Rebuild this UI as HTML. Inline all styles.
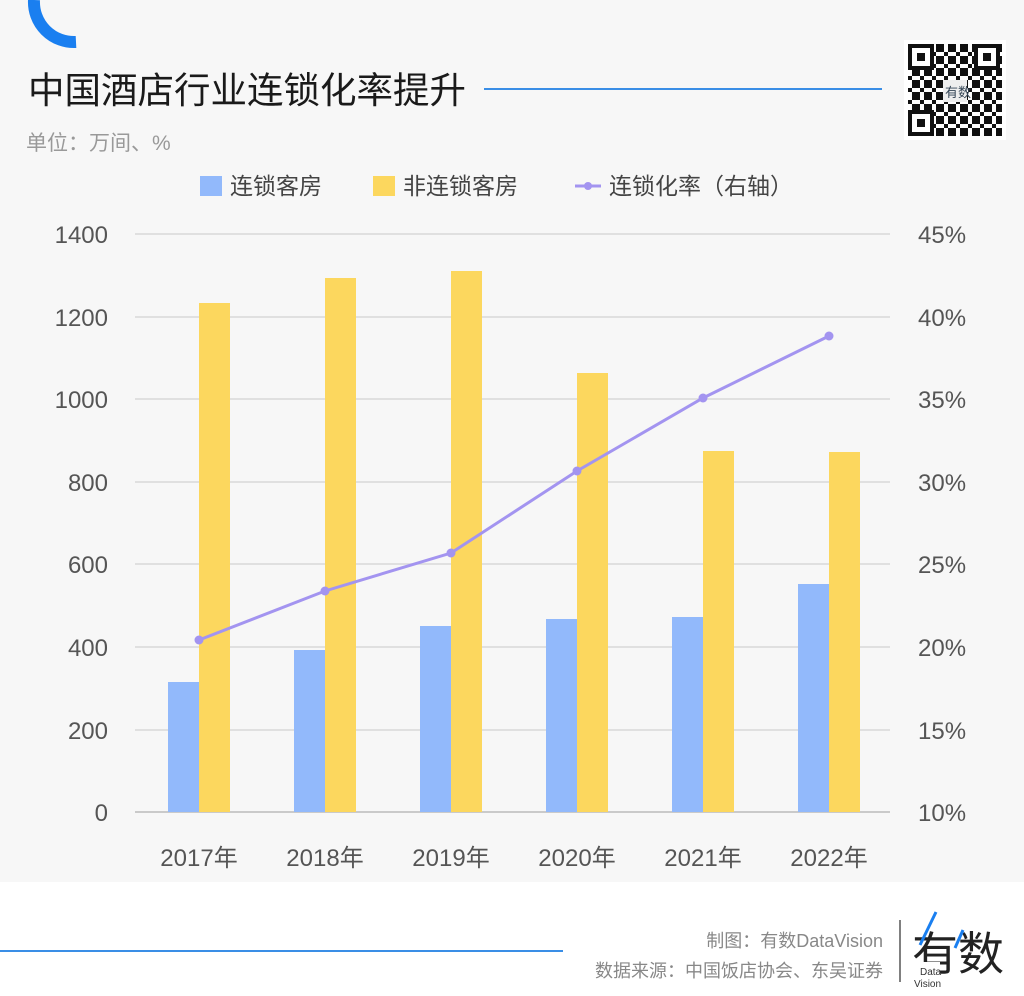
<!DOCTYPE html>
<html><head><meta charset="utf-8"><style>
body{margin:0;width:1024px;height:991px;background:#fff;overflow:hidden;font-family:"Liberation Sans","Noto Sans CJK SC",sans-serif}
</style></head><body>
<svg width="1024" height="991" xmlns="http://www.w3.org/2000/svg" font-family="Liberation Sans, Noto Sans CJK SC, sans-serif">
<defs>
<pattern id="qr" width="12" height="12" patternUnits="userSpaceOnUse">
<rect x="0" y="0" width="4" height="4" fill="#111"/><rect x="8" y="4" width="4" height="4" fill="#111"/><rect x="4" y="8" width="4" height="4" fill="#111"/><rect x="4" y="0" width="4" height="4" fill="#111"/><rect x="0" y="8" width="4" height="4" fill="#111"/>
</pattern>
</defs>
<rect x="0" y="0" width="1024" height="882" fill="#f7f7f7"/>
<path d="M34 0 A40 40 0 0 0 76 42" fill="none" stroke="#1a7ff0" stroke-width="12"/>
<text x="28" y="103" font-size="36.5" fill="#1a1a1a">中国酒店行业连锁化率提升</text>
<line x1="484" y1="89" x2="882" y2="89" stroke="#3a8ee6" stroke-width="2"/>
<text x="26" y="150" font-size="21" fill="#999">单位：万间、%</text>
<rect x="904" y="40" width="102" height="100" fill="#fff"/>
<rect x="908" y="44" width="94" height="92" fill="url(#qr)"/>
<g fill="#fff" stroke="#111" stroke-width="4">
<rect x="910" y="46" width="22" height="22"/><rect x="976" y="46" width="22" height="22"/><rect x="910" y="112" width="22" height="22"/>
</g>
<rect x="917" y="53" width="8" height="8" fill="#111"/><rect x="983" y="53" width="8" height="8" fill="#111"/><rect x="917" y="119" width="8" height="8" fill="#111"/>
<rect x="943" y="80" width="24" height="22" fill="#eee"/>
<text x="945" y="97" font-size="13" fill="#345">有数</text>
<rect x="200" y="176" width="22" height="20" fill="#92b9fb"/>
<text x="230" y="194" font-size="23" fill="#444">连锁客房</text>
<rect x="373" y="176" width="22" height="20" fill="#fcd75e"/>
<text x="403" y="194" font-size="23" fill="#444">非连锁客房</text>
<line x1="575" y1="186" x2="601" y2="186" stroke="#a394f0" stroke-width="3"/>
<circle cx="588" cy="186" r="4" fill="#a394f0"/>
<text x="609" y="194" font-size="23" fill="#444">连锁化率（右轴）</text>
<g stroke="#d9d9d9" stroke-width="1.5">
<line x1="135" y1="234" x2="890" y2="234"/><line x1="135" y1="317" x2="890" y2="317"/><line x1="135" y1="399" x2="890" y2="399"/><line x1="135" y1="482" x2="890" y2="482"/><line x1="135" y1="564" x2="890" y2="564"/><line x1="135" y1="647" x2="890" y2="647"/><line x1="135" y1="730" x2="890" y2="730"/>
</g>
<line x1="135" y1="812" x2="890" y2="812" stroke="#bbb" stroke-width="1.5"/>
<g font-size="24" fill="#555" text-anchor="end">
<text x="108" y="243">1400</text><text x="108" y="326">1200</text><text x="108" y="408">1000</text><text x="108" y="491">800</text><text x="108" y="573">600</text><text x="108" y="656">400</text><text x="108" y="739">200</text><text x="108" y="821">0</text>
</g>
<g font-size="24" fill="#555">
<text x="918" y="243">45%</text><text x="918" y="326">40%</text><text x="918" y="408">35%</text><text x="918" y="491">30%</text><text x="918" y="573">25%</text><text x="918" y="656">20%</text><text x="918" y="739">15%</text><text x="918" y="821">10%</text>
</g>
<g fill="#92b9fb">
<rect x="168" y="682" width="31" height="130"/><rect x="294" y="650" width="31" height="162"/><rect x="420" y="626" width="31" height="186"/><rect x="546" y="619" width="31" height="193"/><rect x="672" y="617" width="31" height="195"/><rect x="798" y="584" width="31" height="228"/>
</g>
<g fill="#fcd75e">
<rect x="199" y="303" width="31" height="509"/><rect x="325" y="278" width="31" height="534"/><rect x="451" y="271" width="31" height="541"/><rect x="577" y="373" width="31" height="439"/><rect x="703" y="451" width="31" height="361"/><rect x="829" y="452" width="31" height="360"/>
</g>
<polyline points="199,640 325,591 451,553 577,471 703,398 829,336" fill="none" stroke="#a394f0" stroke-width="3"/>
<g fill="#a394f0">
<circle cx="199" cy="640" r="4.5"/><circle cx="325" cy="591" r="4.5"/><circle cx="451" cy="553" r="4.5"/><circle cx="577" cy="471" r="4.5"/><circle cx="703" cy="398" r="4.5"/><circle cx="829" cy="336" r="4.5"/>
</g>
<g font-size="24" fill="#555" text-anchor="middle">
<text x="199" y="866">2017年</text><text x="325" y="866">2018年</text><text x="451" y="866">2019年</text><text x="577" y="866">2020年</text><text x="703" y="866">2021年</text><text x="829" y="866">2022年</text>
</g>
<line x1="0" y1="951" x2="563" y2="951" stroke="#3a8ee6" stroke-width="2"/>
<g font-size="18" fill="#888" text-anchor="end">
<text x="883" y="947">制图：有数DataVision</text>
<text x="883" y="977">数据来源：中国饭店协会、东吴证券</text>
</g>
<line x1="900" y1="920" x2="900" y2="982" stroke="#555" stroke-width="1.5"/>
<text x="912" y="970" font-size="46" fill="#222">有数</text>
<line x1="920" y1="945" x2="936" y2="912" stroke="#1a7ff0" stroke-width="3"/>
<line x1="955" y1="948" x2="963" y2="930" stroke="#1a7ff0" stroke-width="3"/>
<rect x="914" y="962" width="26" height="28" fill="#fff"/>
<text x="920" y="975" font-size="10" fill="#333">Data</text>
<text x="914" y="987" font-size="10" fill="#333">Vision</text>
</svg>
</body></html>
